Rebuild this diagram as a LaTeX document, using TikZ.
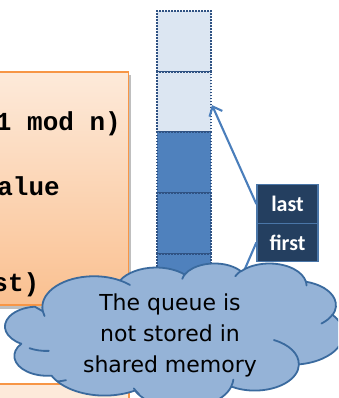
\documentclass[tikz,border=0pt]{standalone}
\usepackage{fontspec}
\newfontfamily\codefont{Liberation Mono}
\newfontfamily\notefont{DejaVu Sans}
\newfontfamily\labelfont{Carlito}
\usetikzlibrary{arrows.meta}

\definecolor{peachtop}{HTML}{FDEADA}
\definecolor{peachbot}{HTML}{FAC090}
\definecolor{orangeline}{HTML}{F79646}
\definecolor{celllight}{HTML}{DCE6F2}
\definecolor{celldark}{HTML}{4F81BD}
\definecolor{celledge}{HTML}{2F5283}
\definecolor{ptrfill}{HTML}{243F60}
\definecolor{ptredge}{HTML}{4A76A8}
\definecolor{linkblue}{HTML}{4A7EBB}
\definecolor{cloudfill}{HTML}{95B3D7}
\definecolor{cloudedge}{HTML}{3A6A9E}

\begin{document}
\begin{tikzpicture}[x=1pt, y=-1pt,
  codebox/.style={draw=orangeline, line width=1.2pt, top color=peachtop, bottom color=peachbot},
  codetext/.style={font=\codefont\bfseries\fontsize{26}{30}\selectfont, inner sep=0, anchor=base east},
  cellbase/.style={draw=celledge, line width=2pt, dash pattern=on 1.6pt off 1.4pt,
    minimum width=54pt, minimum height=60.7pt, inner sep=0},
  cellL/.style={cellbase, fill=celllight},
  cellD/.style={cellbase, fill=celldark},
  ptr/.style={draw=ptredge, fill=ptrfill, line width=1.3pt, text=white,
    font=\labelfont\bfseries\fontsize{22}{26}\selectfont,
    minimum width=61pt, minimum height=38.5pt, inner sep=0},
  link/.style={draw=linkblue, line width=2.1pt, -{Straight Barb[length=8pt, width=14pt]}},
  cloudbody/.style={fill=cloudfill, draw=cloudedge, line width=1.8pt, line join=round},
  cloudline/.style={draw=cloudedge, line width=1.8pt, line cap=round}
]
\useasboundingbox (0,0) rectangle (338,398);
\clip (0,0) rectangle (338,398);

% code panel with its drop shadow
\fill[black, opacity=0.25] (-5,75) rectangle (131,308.5);
\path[codebox] (-5,72) rectangle (128.5,305);
\node[codetext] (l1) at (121,131) {1 mod n)};
\node[codetext] (l2) at (60,195) {alue};
\node[codetext] (l3) at (39.5,291) {st)};

% second code panel below
\path[draw=orangeline, line width=1.2pt, fill=peachtop] (-5,384) rectangle (129,420);

% queue slots
\node[cellL] (c1) at (184,41.35) {};
\node[cellL] (c2) at (184,102.05) {};
\node[cellD] (c3) at (184,162.75) {};
\node[cellD] (c4) at (184,223.45) {};
\node[cellD] (c5) at (184,284.15) {};
\node[cellD] (c6) at (184,344.85) {};

% head and tail pointers
\node[ptr] (last) at (287.5,204) {last};
\node[ptr] (first) at (287.5,242.5) {first};
\draw[link] (last.west) -- ([yshift=-3pt]c2.east);
\draw[link] (first.west) -- (c6.east);

% cloud callout (arcs of the usual cloud outline)
\begin{scope}[shift={(13,263)}, x=0.0076389pt, y=-0.0033565pt]
  \path[cloudbody] (3900,14370)
    \foreach \Rx/\Ry/\Ast/\Asw in {
      6753/9190/-190.4875/123.7805,
      5333/7267/-144.1024/89.9452,
      4365/5945/-145.8079/99.7230,
      4857/6595/-130.9861/117.2417,
      5333/7273/-78.7089/109.0269,
      6775/9220/-46.2673/130.2690,
      5785/7867/0.6250/114.0333,
      6752/9215/22.4636/125.4185,
      7720/10543/66.2426/80.1648,
      4360/5918/-274.9421/141.5364,
      4345/5945/-246.8285/152.5318}
    { arc[x radius=\Rx, y radius=\Ry,
          start angle={atan2(\Rx*sin(\Ast),\Ry*cos(\Ast))},
          delta angle={\Asw + asin(sin(atan2(\Rx*sin(\Ast+\Asw),\Ry*cos(\Ast+\Asw))-(\Ast)-(\Asw)))
                        - asin(sin(atan2(\Rx*sin(\Ast),\Ry*cos(\Ast))-(\Ast)))}] }
    -- cycle;
  \path[cloudline]
    \foreach \px/\py/\Rx/\Ry/\Ast/\Asw in {
      4693/26177/4345/5945/86.7420/26.4295,
      6928/34899/4360/5918/73.6105/11.4475,
      16478/39090/6752/9215/137.6242/14.0811,
      28827/34751/6752/9215/6.4533/15.9984,
      34129/22954/5785/7867/-70.2924/70.9174,
      41798/15354/5333/7273/30.3180/27.7515,
      38324/5426/4857/6595/-13.7443/14.8589,
      29078/3952/4857/6595/-149.1815/18.1954,
      22141/4720/4365/5945/-163.4943/17.6864,
      14000/5192/6753/9190/-66.7070/12.3194,
      4127/15789/6753/9190/157.6544/11.8519}
    { (\px,\py) arc[x radius=\Rx, y radius=\Ry,
          start angle={atan2(\Rx*sin(\Ast),\Ry*cos(\Ast))},
          delta angle={\Asw + asin(sin(atan2(\Rx*sin(\Ast+\Asw),\Ry*cos(\Ast+\Asw))-(\Ast)-(\Asw)))
                        - asin(sin(atan2(\Rx*sin(\Ast),\Ry*cos(\Ast))-(\Ast)))}] };
\end{scope}

\node[font=\notefont\fontsize{22}{31}\selectfont, align=center, inner sep=0] (note)
  at (170,335.3) {The queue is\\not stored in\\shared memory};
\end{tikzpicture}
\end{document}
